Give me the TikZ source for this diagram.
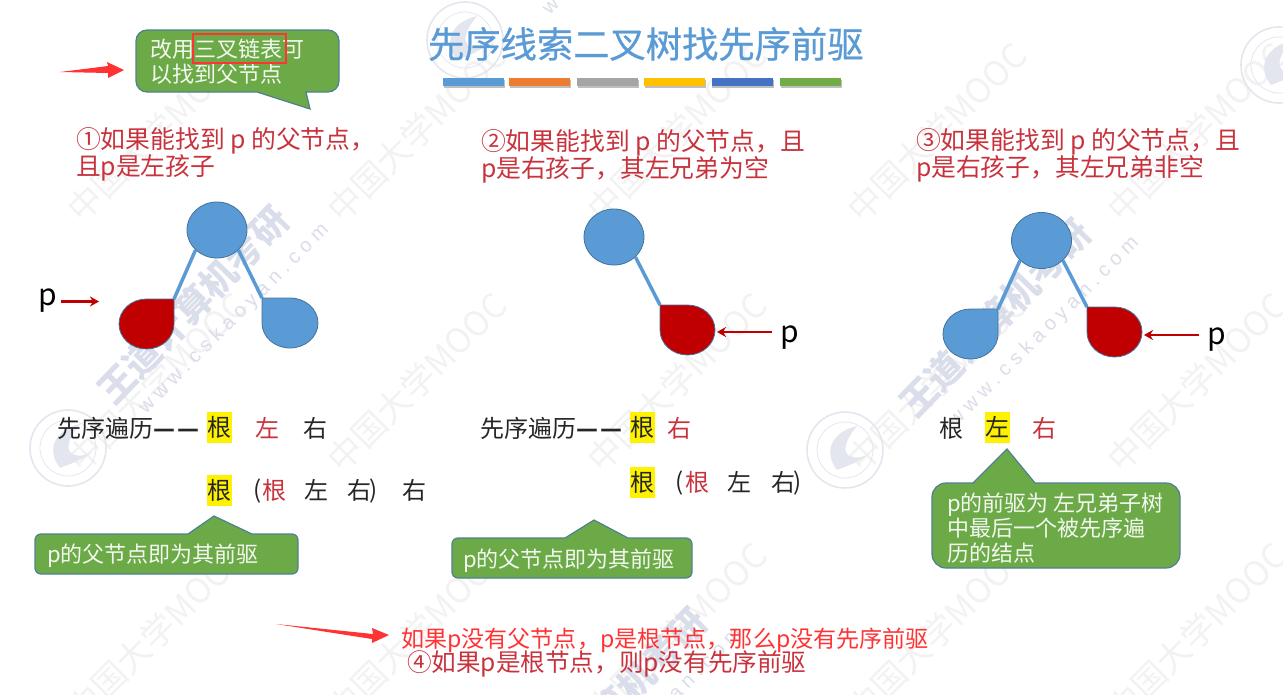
\documentclass[tikz,border=0pt]{standalone}
\usepackage{fontspec}
\setmainfont{Noto Sans CJK SC}
\newfontfamily\latinwm[LetterSpace=28]{Liberation Sans}
\newfontfamily\titlefont[FakeBold=0.7]{Noto Sans CJK SC}
\usetikzlibrary{arrows.meta,shapes.geometric}
\definecolor{nodeblue}{HTML}{5B9BD5}
\definecolor{nodeedge}{HTML}{41719C}
\definecolor{nodered}{HTML}{C00000}
\definecolor{callgreen}{HTML}{6CAA47}
\definecolor{callsteel}{HTML}{4F7F93}
\definecolor{headred}{HTML}{C8323C}
\definecolor{markred}{HTML}{FF3333}
\definecolor{wmlight}{HTML}{F2F2F2}
\definecolor{wmblue}{HTML}{DADDEA}
\definecolor{wmseal}{HTML}{E4E6EF}
\newcommand{\fs}[2]{\fontsize{#1}{#2}\selectfont}
\newcommand{\tdash}{{\bfseries—\hspace{3pt}—}}
\tikzset{
  x=1pt,y=-1pt,
  lbl/.style={inner sep=0pt,outer sep=0pt,align=left,anchor=west},
  heading/.style={lbl,text=headred,font=\fs{24.8}{27}},
  body/.style={inner sep=0pt,outer sep=0pt,text=black!85,font=\fs{24}{27}},
  redbody/.style={body,text=headred},
  hl/.style={body,fill=yellow,minimum width=25pt,minimum height=31pt},
  calltext/.style={lbl,text=white!92!callgreen,font=\fs{22}{25}},
  call/.style={draw=callsteel,fill=callgreen,line width=1.2pt},
  rootnode/.style={ellipse,draw=nodeedge,fill=nodeblue,line width=.8pt,minimum width=60pt,minimum height=56pt,inner sep=0pt},
  dropblue/.style={draw=nodeedge,fill=nodeblue,line width=.8pt},
  dropred/.style={draw=nodeedge,fill=nodered,line width=.8pt},
  link/.style={draw=nodeblue,line width=3.5pt},
  parrow/.style={draw=nodered,line width=2.6pt,-{Stealth[length=9pt,width=10pt]}},
  pmark/.style={inner sep=0pt,text=black,font=\fs{30}{30}},
  wmtext/.style={inner sep=0pt,rotate=45,text=wmlight,font=\fs{34}{34}},
  wmlogo/.style={inner sep=0pt,rotate=46,text=wmblue,font=\fs{36.5}{38}\bfseries},
  wmurl/.style={inner sep=0pt,rotate=45,text=wmblue,font=\fs{20}{20}\latinwm},
}
\begin{document}
\begin{tikzpicture}
\useasboundingbox (0,0) rectangle (1283,694);
\clip (0,0) rectangle (1283,694);
% watermarks
\foreach \wx in {157,417,677,937,1197}
  \foreach \wy in {132,382,632}
    \node[wmtext] (wm\wx\wy) at (\wx,\wy) {中国大学MOOC};
\foreach \sx/\sy in {68/448,845/450,465/40,1279/65}{
  \draw[wmseal,line width=1.6pt] (\sx,\sy) circle[radius=38];
  \draw[wmseal,line width=.8pt] (\sx,\sy) circle[radius=28];
  \fill[wmseal] (\sx+12,\sy-24) .. controls (\sx-14,\sy-18) and (\sx-22,\sy+2) .. (\sx-8,\sy+20) .. controls (\sx+2,\sy+16) and (\sx+14,\sy+12) .. (\sx+24,\sy+4) .. controls (\sx+10,\sy+12) and (\sx-14,\sy+8) .. (\sx+12,\sy-24) -- cycle;
}
\node[wmlogo] (lga) at (193,305) {王道计算机考研};
\node[wmurl] (ura) at (234,319) {www.cskaoyan.com};
\node[wmlogo] (lgb) at (995,318) {王道计算机考研};
\node[wmurl] (urb) at (1044,332) {www.cskaoyan.com};
\node[wmurl] (urc) at (638,-80) {www.cskaoyan.com};
\node[wmlogo] (lgd) at (611,707) {王道计算机考研};
\node[wmurl] (urd) at (647,723) {www.cskaoyan.com};

% title and bars
\node[lbl,text=nodeblue,font=\fs{36.3}{40}\titlefont] (title) at (428,44) {先序线索二叉树找先序前驱};
\foreach \ax/\bx/\c in {443/504/5B9BD5,509/570/ED7D31,577/638/A5A5A5,644/705/FFC000,711.5/773/4472C4,780/841/70AD47}{
  \fill[black!25] (\ax+.5,80) rectangle (\bx+.5,88);
  \definecolor{barc}{HTML}{\c}
  \fill[barc] (\ax,78) rectangle (\bx,86);
}

% top callout
\path[call] (136,60) [rounded corners=11] -- (136,30) -- (339,30) -- (339,92) [sharp corners] -- (306,92) -- (310,109) -- (257,92) [rounded corners=11] -- (136,92) -- cycle;
\node[calltext] (topcall) at (150,62) {改用三叉链表可\\以找到父节点};
\node[draw=markred,line width=2pt,minimum width=93pt,minimum height=29pt,inner sep=0pt] (box) at (239.5,48.5) {};
\fill[markred] (60,72) -- (108,66) -- (107,62) -- (124,70) -- (108,78) -- (108,73) -- cycle;

% headings
\node[heading] (h1) at (76,154) {①如果能找到 p 的父节点，\\且p是左孩子};
\node[heading] (h2) at (481,156) {②如果能找到 p 的父节点，且\\p是右孩子，其左兄弟为空};
\node[heading] (h3) at (916,155) {③如果能找到 p 的父节点，且\\p是右孩子，其左兄弟非空};

% tree 1
\node[rootnode] (r1) at (217,230) {};
\coordinate (c1l) at (174,299);
\coordinate (c1r) at (262,298);
\draw[link] (r1.south west) -- (c1l);
\draw[link] (r1.south east) -- (c1r);
\path[dropred] (c1l) -- (174,324) arc[start angle=0,end angle=270,x radius=27.5,y radius=25] -- cycle;
\path[dropblue] (c1r) -- (262,323) arc[start angle=180,end angle=-90,x radius=28,y radius=25] -- cycle;
\node[pmark] (p1) at (48,301) {p};
\coordinate (p1t) at (99,301.5);
\draw[parrow] (61,301.5) -- (p1t);

% tree 2
\node[rootnode] (r2) at (614,237) {};
\coordinate (c2r) at (660,305);
\draw[link] (r2.south east) -- (c2r);
\path[dropred] (c2r) -- (660,330) arc[start angle=180,end angle=-90,x radius=27.5,y radius=25] -- cycle;
\node[pmark] (p2) at (790,338) {p};
\coordinate (p2t) at (717,332);
\draw[parrow] (772,332) -- (p2t);

% tree 3
\node[rootnode] (r3) at (1041.5,240.5) {};
\coordinate (c3l) at (998,309);
\coordinate (c3r) at (1087,307);
\draw[link] (r3.south west) -- (c3l);
\draw[link] (r3.south east) -- (c3r);
\path[dropblue] (c3l) -- (998,334) arc[start angle=0,end angle=270,x radius=27.5,y radius=25] -- cycle;
\path[dropred] (c3r) -- (1087,332) arc[start angle=180,end angle=-90,x radius=27.5,y radius=25] -- cycle;
\node[pmark] (p3) at (1217,340) {p};
\coordinate (p3t) at (1144,335);
\draw[parrow] (1199,335) -- (p3t);

% traversal, left
\node[lbl,body] (t1) at (57,428) {先序遍历\tdash};
\node[hl] (a1) at (219.5,427.5) {根};
\node[redbody] (a2) at (267,428.5) {左};
\node[body] (a3) at (315,428.5) {右};
\node[hl] (b1) at (219.5,490) {根};
\node[body] (b2) at (258,491) {(};
\node[redbody] (b3) at (274,490.5) {根};
\node[body] (b4) at (316.5,490.5) {左};
\node[body] (b5) at (359,490.5) {右};
\node[body] (b6) at (374,491) {)};
\node[body] (b7) at (414.5,490.5) {右};

% traversal, middle
\node[lbl,body] (t2) at (480,428) {先序遍历\tdash};
\node[hl] (c1) at (642.5,427.5) {根};
\node[redbody] (c2) at (679.5,428) {右};
\node[hl] (d1) at (642.5,482.5) {根};
\node[body] (d2) at (680,483) {(};
\node[redbody] (d3) at (697,482.5) {根};
\node[body] (d4) at (739.5,482.5) {左};
\node[body] (d5) at (783,482.5) {右};
\node[body] (d6) at (798,483) {)};

% traversal, right
\node[body] (e1) at (951,428.5) {根};
\node[hl] (e2) at (997.5,427.5) {左};
\node[redbody] (e3) at (1044.5,428.5) {右};

% callouts
\path[call] (35,554) [rounded corners=6] -- (35,534) [sharp corners] -- (188,534) -- (214,516) -- (252,534) [rounded corners=6] -- (298,534) -- (298,574) -- (35,574) -- cycle;
\node[calltext] (n1) at (47,556) {p的父节点即为其前驱};
\path[call] (452,558) [rounded corners=6] -- (452,538) [sharp corners] -- (565,538) -- (594,520) -- (628,538) [rounded corners=6] -- (692,538) -- (692,578) -- (452,578) -- cycle;
\node[calltext] (n2) at (463,561) {p的父节点即为其前驱};
\path[call] (932,525) [rounded corners=14] -- (932,483) [sharp corners] -- (973,483) -- (1007,449) -- (1035,483) [rounded corners=14] -- (1180,483) -- (1180,568) -- (932,568) -- cycle;
\node[calltext] (n3) at (947,528) {p的前驱为 左兄弟子树\\中最后一个被先序遍\\历的结点};

% bottom
\fill[markred] (276,624) -- (373,634) -- (372,628) -- (389,635) -- (372,643) -- (372,639) -- cycle;
\node[lbl,text=markred,font=\fs{23.1}{25}] (note) at (401,640) {如果p没有父节点，p是根节点，那么p没有先序前驱};
\node[lbl,text=headred,font=\fs{24.6}{26}] (h4) at (407,664) {④如果p是根节点，则p没有先序前驱};
\end{tikzpicture}
\end{document}
